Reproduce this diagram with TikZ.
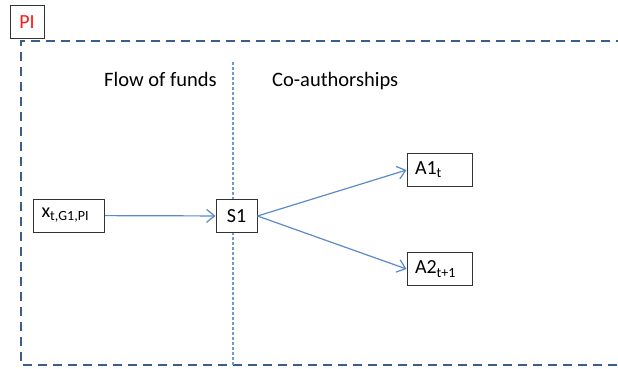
\documentclass[tikz,border=0pt]{standalone}
\usepackage{fontspec}
\setmainfont{Carlito}
\usetikzlibrary{arrows.meta,positioning}
\definecolor{Frame}{HTML}{3B5F8C}
\definecolor{Link}{HTML}{5B8BC9}
\definecolor{Split}{HTML}{6F9AD2}
\definecolor{Tag}{HTML}{FF1A1A}
\tikzset{
  box/.style={draw=black!80,line width=1pt,fill=white,minimum height=33pt,inner xsep=8pt,inner ysep=0pt,font=\fontsize{20}{24}\selectfont},
  leftbox/.style={box,text width=#1,align=left},
  heading/.style={anchor=base west,inner sep=0pt,font=\fontsize{20.5}{24}\selectfont},
  frame/.style={draw=Frame,line width=2.4pt,dash pattern=on 9pt off 6pt},
  split/.style={draw=Split,line width=1.1pt,dash pattern=on 3pt off 2pt},
  link/.style={-{Straight Barb[length=8pt,width=13pt,line width=1.2pt]},line width=1.2pt,draw=Link}
}
\begin{document}
\begin{tikzpicture}[x=1pt,y=1pt]
  \useasboundingbox[fill=white] (0,0) rectangle (618,-368);

  % PI boundary and the funds / co-authorship divide
  \draw[frame] (625,-41) -- (21,-41) -- (21,-365) -- (625,-365);
  \draw[split] (233,-62) -- (233,-365);

  \node[box,minimum width=34pt,inner xsep=0pt,text=Tag] (pi) at (27,-22) {PI};

  \node[heading] (funds) at (104,-86) {Flow of funds};
  \node[heading] (coauth) at (272,-86) {Co-authorships};

  \node[leftbox=55pt] (grant) at (69,-215.5) {x\textsubscript{t,G1,PI}};
  \node[box,minimum width=41pt,inner xsep=0pt] (s1) at (236.5,-216) {S1};
  \node[leftbox=49pt] (a1) at (439.5,-170) {A1\textsubscript{t}};
  \node[leftbox=49pt] (a2) at (439.5,-269) {A2\textsubscript{t+1}};

  \draw[link] (grant) -- (s1);
  \draw[link] (s1.east) -- (a1.west);
  \draw[link] (s1.east) -- (a2.west);
\end{tikzpicture}
\end{document}
